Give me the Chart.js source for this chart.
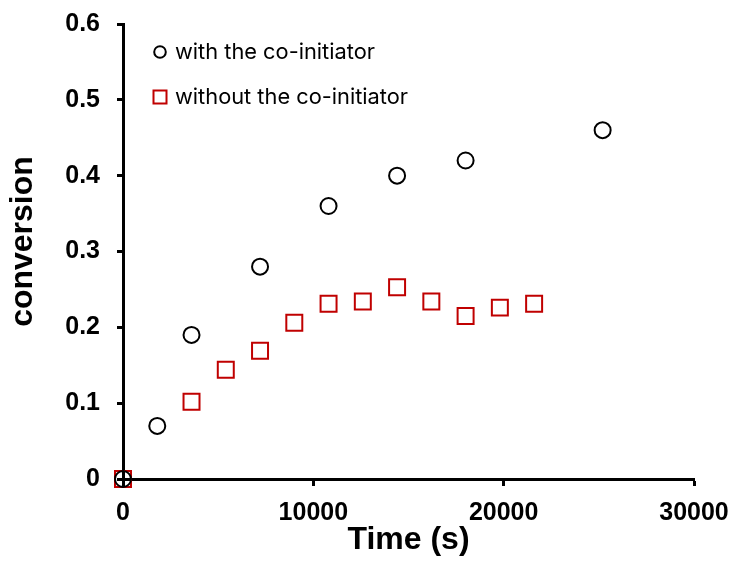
<!DOCTYPE html>
<html>
<head>
<meta charset="utf-8">
<script src="https://cdn.jsdelivr.net/npm/chart.js@4/dist/chart.umd.min.js"></script>
<style>
  html, body { margin: 0; padding: 0; background: #fff; }
  #wrap { width: 735px; height: 570px; }
</style>
</head>
<body>
<div id="wrap"><canvas id="c" width="735" height="570"></canvas></div>
<script>
// ---- data ----
const withTime = [0, 1800, 3600, 7200, 10800, 14400, 18000, 25200];
const withConv = [0, 0.07, 0.19, 0.28, 0.36, 0.40, 0.42, 0.46];
const withoutTime = [0, 3600, 5400, 7200, 9000, 10800, 12600, 14400, 16200, 18000, 19800, 21600];
const withoutConv = [0, 0.102, 0.144, 0.169, 0.206, 0.231, 0.234, 0.253, 0.234, 0.215, 0.226, 0.231];
const seriesLabels = ['with the co-initiator', 'without the co-initiator'];
const xTickValues = [0, 10000, 20000, 30000];
const yTickValues = [0, 0.1, 0.2, 0.3, 0.4, 0.5, 0.6];
const xTitle = 'Time (s)';
const yTitle = 'conversion';

const toPoints = (xs, ys) => xs.map((x, i) => ({ x: x, y: ys[i] }));

const RED = '#C00000';

// legend drawn inside the plot area, top-left
const inlineLegend = {
  id: 'inlineLegend',
  afterDatasetsDraw(chart) {
    const ctx = chart.ctx;
    const area = chart.chartArea;
    chart.data.datasets.forEach((ds, i) => {
      const cx = area.left + 37;
      const cy = area.top + 28 + i * 45;
      ctx.save();
      ctx.lineWidth = 2;
      ctx.strokeStyle = ds.borderColor;
      if (ds.pointStyle === 'circle') {
        ctx.beginPath();
        ctx.arc(cx, cy, 5.8, 0, Math.PI * 2);
        ctx.stroke();
      } else {
        ctx.strokeRect(cx - 6.5, cy - 6.5, 13, 13);
      }
      ctx.fillStyle = '#000';
      ctx.font = '21.8px Inter';
      ctx.textBaseline = 'middle';
      ctx.textAlign = 'left';
      ctx.fillText(ds.label, cx + 15, cy);
      ctx.restore();
    });
  }
};

// vertical axis title (slightly above the axis centre, as in the original)
const yAxisTitle = {
  id: 'yAxisTitle',
  afterDraw(chart) {
    const ctx = chart.ctx;
    const area = chart.chartArea;
    ctx.save();
    ctx.translate(23, (area.top + area.bottom) / 2 - 10);
    ctx.rotate(-Math.PI / 2);
    ctx.font = 'bold 32px "Liberation Sans"';
    ctx.fillStyle = '#000';
    ctx.textAlign = 'center';
    ctx.textBaseline = 'middle';
    ctx.fillText(yTitle, 0, 0);
    ctx.restore();
  }
};

const tickFont = { family: 'Liberation Sans', weight: 'bold', size: 25, lineHeight: 1 };
const titleFont = { family: 'Liberation Sans', weight: 'bold', size: 32, lineHeight: 1 };

new Chart(document.getElementById('c'), {
  type: 'scatter',
  data: {
    datasets: [
      {
        label: seriesLabels[0],
        data: toPoints(withTime, withConv),
        pointStyle: 'circle',
        pointRadius: 8,
        pointHoverRadius: 8,
        borderWidth: 2,
        borderColor: '#000',
        backgroundColor: 'rgba(0,0,0,0)',
        clip: false
      },
      {
        label: seriesLabels[1],
        data: toPoints(withoutTime, withoutConv),
        pointStyle: 'rect',
        pointRadius: 11.3,
        pointHoverRadius: 11.3,
        borderWidth: 2,
        borderColor: RED,
        backgroundColor: 'rgba(0,0,0,0)',
        clip: false
      }
    ]
  },
  options: {
    responsive: false,
    animation: false,
    devicePixelRatio: 1,
    layout: { padding: { top: 24, right: 41, left: 0, bottom: 0 } },
    plugins: {
      legend: { display: false },
      tooltip: { enabled: false }
    },
    scales: {
      x: {
        type: 'linear',
        min: 0,
        max: 30000,
        afterFit(scale) {
          scale.height = 91;
          scale.paddingLeft = 0;
          scale.paddingRight = 0;
        },
        afterBuildTicks(scale) { scale.ticks = xTickValues.map(v => ({ value: v })); },
        ticks: {
          color: '#000',
          font: tickFont,
          padding: 15,
          maxRotation: 0,
          autoSkip: false,
          callback: (v) => String(v)
        },
        grid: {
          display: true,
          drawOnChartArea: false,
          drawTicks: true,
          tickLength: 7,
          tickWidth: 3,
          tickColor: '#000'
        },
        border: { display: true, width: 3, color: '#000' },
        title: {
          display: true,
          text: xTitle,
          color: '#000',
          font: titleFont,
          padding: { top: 0, bottom: 14 }
        }
      },
      y: {
        type: 'linear',
        min: 0,
        max: 0.6,
        afterFit(scale) {
          scale.width = 123;
          scale.paddingTop = 0;
          scale.paddingBottom = 0;
        },
        afterBuildTicks(scale) { scale.ticks = yTickValues.map(v => ({ value: v })); },
        ticks: {
          color: '#000',
          font: tickFont,
          padding: 17,
          autoSkip: false,
          callback: (v) => (v === 0 ? '0' : Number(v).toFixed(1))
        },
        grid: {
          display: true,
          drawOnChartArea: false,
          drawTicks: true,
          tickLength: 6,
          tickWidth: 3,
          tickColor: '#000'
        },
        border: { display: true, width: 3, color: '#000' },
        title: { display: false, text: yTitle }
      }
    }
  },
  plugins: [inlineLegend, yAxisTitle]
});
</script>
</body>
</html>
